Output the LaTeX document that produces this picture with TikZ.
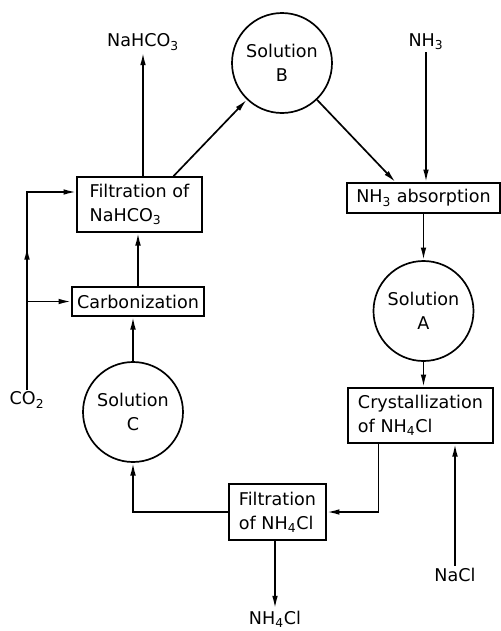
\documentclass[tikz,border=0pt]{standalone}
\usepackage{fontspec}
\setmainfont{DejaVu Sans}
\usetikzlibrary{arrows.meta}
\begin{document}
\begin{tikzpicture}[x=0.25mm, y=-0.25mm, line width=1.2pt,
    font=\fontsize{12.5}{17}\selectfont,
    box/.style={draw, align=left, inner sep=2pt},
    sol/.style={draw, circle, minimum size=25mm, align=center, inner sep=0pt},
    lbl/.style={inner sep=1pt},
    flow/.style={-{Latex[length=9pt,width=4pt]}}]
            \useasboundingbox (0,0) rectangle (501,631);
            % circles
            \node[sol] (solB) at (282,63) {Solution\\B};
            \node[sol] (solA) at (423.5,311) {Solution\\A};
            \node[sol] (solC) at (133,412) {Solution\\C};
            % process boxes
            \node[box, minimum width=31.25mm, minimum height=13.75mm] (fnahco) at (139.5,204.5) {Filtration of\\NaHCO\textsubscript{3}};
            \node[box, minimum width=33mm, minimum height=7.25mm] (carb) at (138,301.5) {Carbonization};
            \node[box, minimum width=38.25mm, minimum height=7.5mm] (absorb) at (423.5,198) {NH\textsubscript{3} absorption};
            \node[box, minimum width=36.25mm, minimum height=13.75mm] (cryst) at (420.5,415.5) {Crystallization\\of NH\textsubscript{4}Cl};
            \node[box, minimum width=24.25mm, minimum height=14mm] (fnh4) at (277.5,512) {Filtration\\of NH\textsubscript{4}Cl};
            % feeds and products
            \node[lbl] (nahco3) at (143,42) {NaHCO\textsubscript{3}};
            \node[lbl] (nh3) at (426,42) {NH\textsubscript{3}};
            \node[lbl] (co2) at (27,400) {CO\textsubscript{2}};
            \node[lbl] (nacl) at (455,575) {NaCl};
            \node[lbl] (nh4cl) at (275,619) {NH\textsubscript{4}Cl};
            \coordinate (co2top) at (27,192);
            \coordinate (co2mid) at (27,247);
            % flows
            \draw[flow] (nahco3.south |- fnahco.north) -- (nahco3.south);
            \draw[flow] ([xshift=8.5mm]fnahco.north) -- (solB);
            \draw[flow] (solB) -- ([xshift=-7mm]absorb.north);
            \draw[flow] (nh3.south) -- (nh3.south |- absorb.north);
            \draw[flow] (absorb) -- (solA);
            \draw[flow] (solA) -- (solA |- cryst.north);
            \draw[flow] ([xshift=-10.5mm]cryst.south) |- (fnh4);
            \draw[flow] (nacl) -- (nacl |- cryst.south);
            \draw[flow] (nh4cl |- fnh4.south) -- (nh4cl);
            \draw[flow] (fnh4) -| (solC);
            \draw[flow] (solC) -- (solC |- carb.south);
            \draw[flow] (carb.north) -- (carb.north |- fnahco.south);
            \draw[flow] (co2) -- (co2top) -- (co2top -| fnahco.west);
            \draw[flow] (co2) -- (co2mid);
            \draw[flow] (co2 |- carb) -- (carb);
\end{tikzpicture}
\end{document}
